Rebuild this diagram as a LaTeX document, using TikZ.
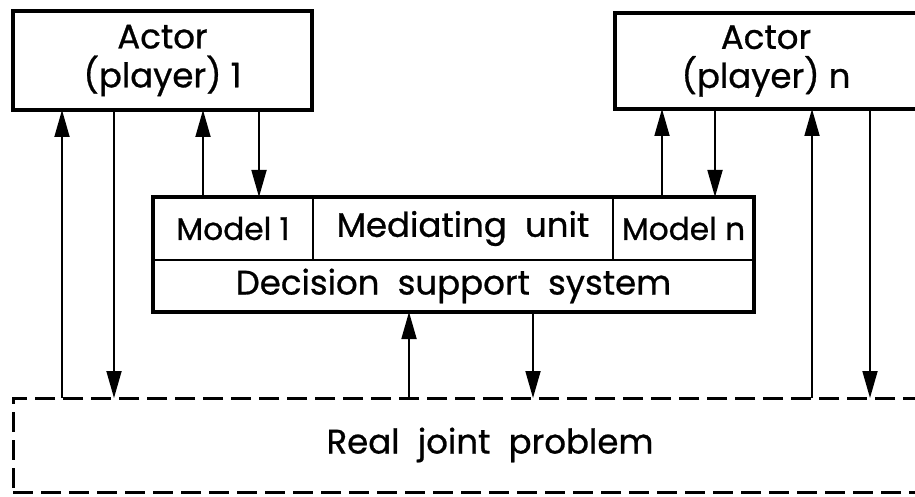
\documentclass[tikz,border=0pt]{standalone}
\usepackage{fontspec}
\setmainfont{Poppins}[FakeBold=0.8]
\usetikzlibrary{arrows.meta}
\newcommand\diagfont{\fontsize{17}{19.5}\selectfont}
\newcommand\modelfont{\fontsize{15.6}{19.5}\selectfont}
\begin{document}
\begin{tikzpicture}[x=0.5pt,y=-0.5pt,
  box/.style={draw, line width=1.6pt, inner sep=0pt, outer sep=0pt, align=center, font=\diagfont},
  cell/.style={draw, line width=0.9pt, inner sep=0pt, outer sep=0pt, align=center, font=\diagfont},
  modelcell/.style={cell, font=\modelfont},
  probbox/.style={draw, line width=1.5pt, dash pattern=on 10pt off 4pt, inner sep=0pt, outer sep=0pt, align=center, font=\diagfont},
  arr/.style={line width=0.9pt, -{Triangle[length=13.5pt,width=7.5pt]}}]
\clip (0,0) rectangle (915,497);

% actors
\node[box, minimum width=149.5pt, minimum height=49.5pt] (act1) at (162.5,60.5) {Actor\\(player) 1};
\node[box, minimum width=151pt, minimum height=48pt] (actn) at (766,61) {Actor\\(player) n};

% decision support system
\node[modelcell, minimum width=80pt, minimum height=31.5pt] (m1) at (233,228.5) {Model 1};
\node[cell, minimum width=150pt, minimum height=31.5pt] (mu) at (463,228.5) {Mediating\ \ unit};
\node[modelcell, minimum width=70.5pt, minimum height=31.5pt] (mn) at (683.5,228.5) {Model n};
\node[cell, minimum width=300.5pt, minimum height=26pt] (dss) at (453.5,286) {Decision\ \ support\ \ system};
\draw[line width=1.6pt] (m1.north west) rectangle (dss.south east);

% real problem
\node[probbox, minimum width=477pt, minimum height=47pt] (prob) at (490,445) {Real\ \ joint\ \ problem};

% connector columns
\coordinate (c1) at (62,0);
\coordinate (c2) at (114,0);
\coordinate (c3) at (203,0);
\coordinate (c4) at (259,0);
\coordinate (c5) at (409,0);
\coordinate (c6) at (533,0);
\coordinate (c7) at (662,0);
\coordinate (c8) at (715,0);
\coordinate (c9) at (812,0);
\coordinate (c10) at (870,0);

\draw[arr] (c1 |- prob.north) -- (c1 |- act1.south);
\draw[arr] (c2 |- act1.south) -- (c2 |- prob.north);
\draw[arr] (c3 |- m1.north) -- (c3 |- act1.south);
\draw[arr] (c4 |- act1.south) -- (c4 |- m1.north);
\draw[arr] (c5 |- prob.north) -- (c5 |- dss.south);
\draw[arr] (c6 |- dss.south) -- (c6 |- prob.north);
\draw[arr] (c7 |- mn.north) -- (c7 |- actn.south);
\draw[arr] (c8 |- actn.south) -- (c8 |- mn.north);
\draw[arr] (c9 |- prob.north) -- (c9 |- actn.south);
\draw[arr] (c10 |- actn.south) -- (c10 |- prob.north);
\end{tikzpicture}
\end{document}
